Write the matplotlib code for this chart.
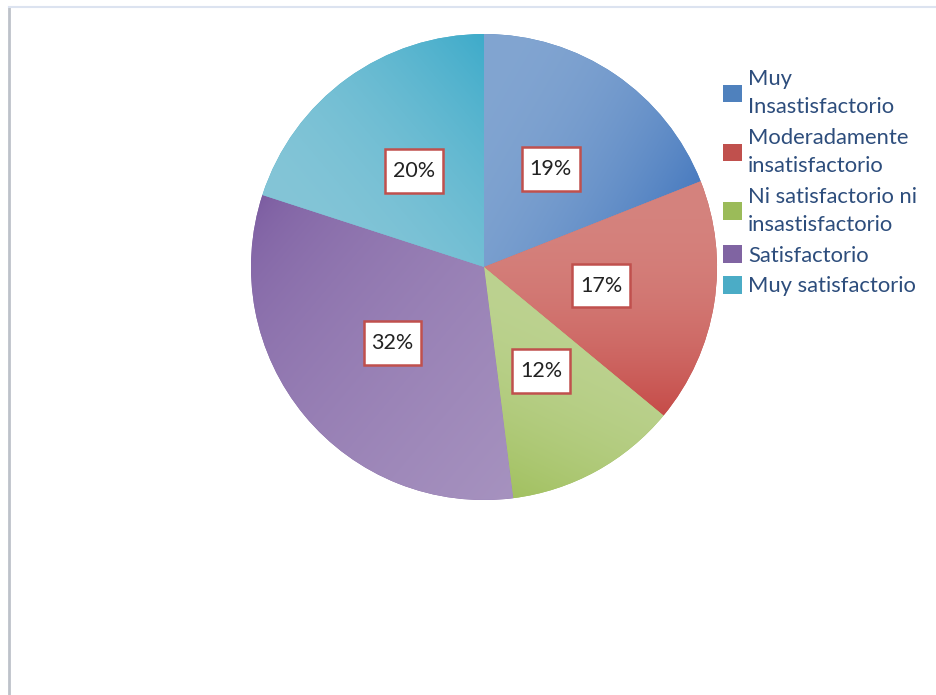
import numpy as np
import matplotlib
matplotlib.use("Agg")
import matplotlib.pyplot as plt
from matplotlib.colors import to_rgb
from matplotlib.lines import Line2D
from matplotlib.path import Path

# datos del grafico
categorias = ["Muy\nInsastisfactorio", "Moderadamente\ninsatisfactorio",
              "Ni satisfactorio ni\ninsastisfactorio", "Satisfactorio",
              "Muy satisfactorio"]
porcentajes = [19, 17, 12, 32, 20]

# colores (claro, oscuro), direccion del degradado en grados y curva
colores_base = ["#4F81BD", "#C0504D", "#9BBB59", "#8064A2", "#4BACC6"]
degradados = [("#82A5D1", "#4A7CC0", -30, 2.2),
              ("#D5837E", "#C64B48", -90, 2.2),
              ("#BCD290", "#A2C160", -115, 1.8),
              ("#7A5AA0", "#A692BF", -40, 0.55),
              ("#84C5D7", "#3EABCA", 40, 1.8)]


def caja(x0, y0, width, height, mutation_size):
    """Rectangulo con mas relleno vertical que horizontal."""
    px = 0.36 * mutation_size
    py = 0.55 * mutation_size
    x0, y0 = x0 - px, y0 - py
    x1, y1 = x0 + width + 2 * px, y0 + height + 2 * py
    return Path([(x0, y0), (x1, y0), (x1, y1), (x0, y1), (x0, y0)],
                closed=True)


plt.rcParams['font.family'] = ['Lato', 'DejaVu Sans']

fig = plt.figure(figsize=(9.37, 6.95), dpi=100)
W, H = 937, 695
cx, cy, r = 484, 267, 233
lim = 1.05
ax = fig.add_axes([(cx - r * lim) / W, (H - cy - r * lim) / H,
                   2 * r * lim / W, 2 * r * lim / H])

wedges, texts, autotexts = ax.pie(
    porcentajes, colors=colores_base, startangle=90, counterclock=False,
    autopct='%1.0f%%', pctdistance=0.51,
    wedgeprops=dict(linewidth=0),
    textprops=dict(fontsize=15.5, color='#222222', zorder=5))

# relleno con degradado recortado a cada porcion
xs = np.linspace(-lim, lim, 500)
X, Y = np.meshgrid(xs, xs)
for w, (c1, c2, ang, g) in zip(wedges, degradados):
    d = np.array([np.cos(np.radians(ang)), np.sin(np.radians(ang))])
    proj = w.get_path().vertices @ d
    t = ((X * d[0] + Y * d[1]) - proj.min()) / (proj.max() - proj.min())
    t = (np.clip(t, 0, 1) ** g)[..., None]
    rgb = (1 - t) * np.array(to_rgb(c1)) + t * np.array(to_rgb(c2))
    im = ax.imshow(rgb, extent=(-lim, lim, -lim, lim), origin='lower',
                   interpolation='bilinear', zorder=2)
    im.set_clip_path(w)

for t in autotexts:
    t.set_bbox(dict(boxstyle=caja, fc='white', ec='#C0504D', lw=1.8))

ax.set_xlim(-lim, lim)
ax.set_ylim(-lim, lim)
ax.axis('off')

leg = fig.legend(wedges, categorias, loc='upper left',
                 bbox_to_anchor=(723 / W, 1 - 69 / H), frameon=False,
                 fontsize=15.8, handlelength=0.85, handleheight=0.85,
                 handletextpad=0.3, labelspacing=0.47, borderpad=0,
                 borderaxespad=0)
for t in leg.get_texts():
    t.set_color('#2D4D7C')
    t.set_linespacing(1.53)

# marco de la imagen
fig.add_artist(Line2D([9 / W, 9 / W], [0, 1 - 7 / H], color='#BDC2CA',
                      lw=2, transform=fig.transFigure))
fig.add_artist(Line2D([9 / W, 1], [1 - 7 / H, 1 - 7 / H], color='#DCE3F0',
                      lw=1.5, transform=fig.transFigure))

fig.savefig("out.png", dpi=100)
